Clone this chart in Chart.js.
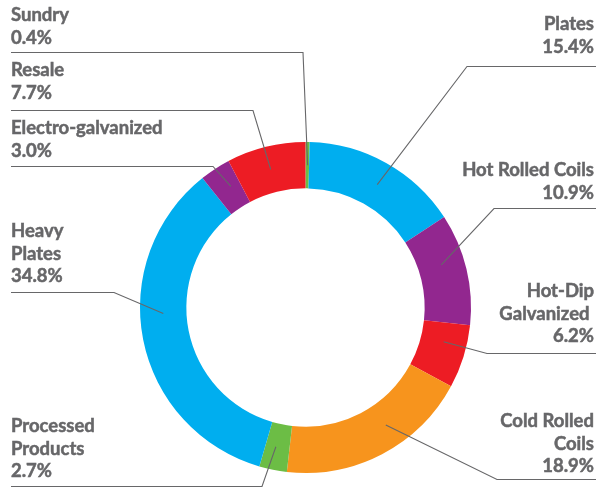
<!DOCTYPE html>
<html>
<head>
<meta charset="utf-8">
<script src="https://cdn.jsdelivr.net/npm/chart.js@4/dist/chart.umd.min.js"></script>
<style>
  html, body { margin: 0; padding: 0; background: #fff; }
  #wrap { width: 597px; height: 498px; }
</style>
</head>
<body>
<div id="wrap"><canvas id="chart" width="597" height="498"></canvas></div>
<script>
// slices clockwise from 12 o'clock
const categories = ['Sundry', 'Plates', 'Hot Rolled Coils', 'Hot-Dip Galvanized', 'Cold Rolled Coils',
    'Processed Products', 'Heavy Plates', 'Electro-galvanized', 'Resale'];
const shares = [0.4, 15.4, 10.9, 6.2, 18.9, 2.7, 34.8, 3.0, 7.7];
const sliceColors = ['#6cbd45', '#00aeef', '#92278f', '#ed1c24', '#f7941d',
    '#6cbd45', '#00aeef', '#92278f', '#ed1c24'];

// how each callout is laid out: text lines, where the text sits, the elbow of its leader line
// and how far along the slice the leader ends
const callouts = [
    { lines: ['Sundry'], side: 'left', base: 21, ruleY: 52, elbowX: 303, along: 0.6 },
    { lines: ['Plates'], side: 'right', base: 30, ruleY: 66, elbowX: 467, along: 0.52 },
    { lines: ['Hot Rolled Coils'], side: 'right', base: 176, ruleY: 208, elbowX: 494, along: 0.4 },
    { lines: ['Hot-Dip', 'Galvanized '], side: 'right', base: 297, ruleY: 353, elbowX: 487, along: 0.35 },
    { lines: ['Cold Rolled', 'Coils'], side: 'right', base: 427, ruleY: 479, elbowX: 497, along: 0.4 },
    { lines: ['Processed', 'Products'], side: 'left', base: 432, ruleY: 486, elbowX: 262, along: 0.57 },
    { lines: ['Heavy', 'Plates'], side: 'left', base: 237, ruleY: 292, elbowX: 114, along: 0.57 },
    { lines: ['Electro-galvanized'], side: 'left', base: 134, ruleY: 166, elbowX: 213, along: 0.64 },
    { lines: ['Resale'], side: 'left', base: 76, ruleY: 110, elbowX: 253, along: 0.49 }
];

const inkColor = '#676769';
const lineHeight = 22.7;

const calloutPlugin = {
    id: 'callouts',
    afterDatasetsDraw(chart) {
        const ctx = chart.ctx;
        const arcs = chart.getDatasetMeta(0).data;
        ctx.save();
        ctx.font = 'bold 18.5px Lato';
        ctx.fillStyle = inkColor;
        ctx.strokeStyle = inkColor;
        ctx.textBaseline = 'alphabetic';

        callouts.forEach((c, i) => {
            const arc = arcs[i];
            const p = arc.getProps(['x', 'y', 'startAngle', 'endAngle', 'innerRadius', 'outerRadius'], true);
            const a = p.startAngle + c.along * (p.endAngle - p.startAngle);
            const r = (p.innerRadius + p.outerRadius) / 2;
            const ax = p.x + Math.cos(a) * r;
            const ay = p.y + Math.sin(a) * r;

            const left = c.side === 'left';
            const textX = left ? 11 : 594;
            const ruleEnd = left ? 11 : 596;
            ctx.textAlign = left ? 'left' : 'right';

            // a thin stroke on the glyphs gives the heavier weight of the original
            ctx.lineWidth = 0.5;
            const text = c.lines.concat([shares[i].toFixed(1) + '%']);
            text.forEach((t, k) => {
                ctx.fillText(t, textX, c.base + k * lineHeight);
                ctx.strokeText(t, textX, c.base + k * lineHeight);
            });

            ctx.lineWidth = 1.1;
            ctx.beginPath();
            ctx.moveTo(ruleEnd, c.ruleY + 0.5);
            ctx.lineTo(c.elbowX, c.ruleY + 0.5);
            ctx.lineTo(ax, ay);
            ctx.stroke();
        });
        ctx.restore();
    }
};

new Chart(document.getElementById('chart'), {
    type: 'doughnut',
    data: {
        labels: categories,
        datasets: [{
            data: shares,
            backgroundColor: sliceColors,
            borderWidth: 0
        }]
    },
    options: {
        responsive: false,
        animation: false,
        cutout: '72%',
        layout: { padding: { left: 140, right: 126, top: 142, bottom: 25 } },
        plugins: {
            legend: { display: false },
            tooltip: { enabled: false }
        }
    },
    plugins: [calloutPlugin]
});
</script>
</body>
</html>
